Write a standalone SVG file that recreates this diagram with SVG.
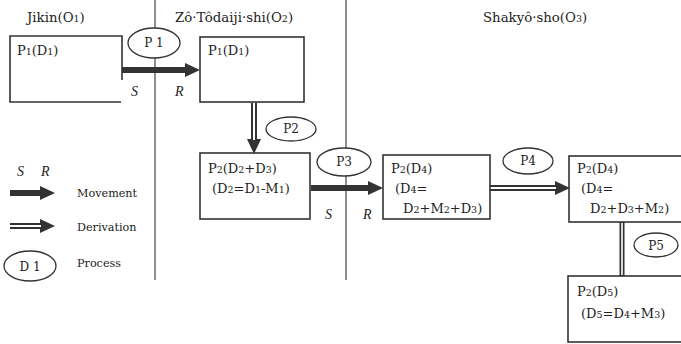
<svg xmlns="http://www.w3.org/2000/svg" width="681" height="344" viewBox="0 0 681 344">
<style>
text{font-family:'DejaVu Serif','Liberation Serif',serif;font-size:13px;fill:#222}
.hd{font-size:13.3px}
.it{font-family:'Liberation Serif',serif;font-style:italic;font-size:14px}
.lg{font-size:12px}
.lw{font-size:11.2px}
.s{font-size:9.5px}
.box{fill:none;stroke:#333;stroke-width:1.6}
.div{stroke:#444;stroke-width:1.2}
.ell{fill:#fff;stroke:#333;stroke-width:1.3}
.mv{stroke:#333;stroke-width:6;fill:none}
.dvo{stroke:#333;stroke-width:6;fill:none}
.dvi{stroke:#fff;stroke-width:2;fill:none}
</style>
<defs>
<marker id="ah" markerUnits="userSpaceOnUse" markerWidth="16" markerHeight="16" refX="0" refY="7" orient="auto" overflow="visible">
<path d="M0,0 L15,7 L0,14 Z" fill="#333"/>
</marker>
</defs>
<rect width="681" height="344" fill="#fff"/>
<g id="dividers">
<line class="div" x1="155" y1="0" x2="155" y2="280"/>
<line class="div" x1="346" y1="0" x2="346" y2="280"/>
</g>
<g id="headers">
<text class="hd" x="27" y="22">Jikin(O<tspan class="s">1</tspan>)</text>
<text class="hd" x="175" y="22">Zô·Tôdaiji·shi(O<tspan class="s">2</tspan>)</text>
<text class="hd" x="483" y="22">Shakyô·sho(O<tspan class="s">3</tspan>)</text>
</g>
<g id="connectors">
<line class="mv" x1="122" y1="70" x2="185" y2="70" marker-end="url(#ah)"/>
<line class="dvo" x1="254" y1="103" x2="254" y2="139" marker-end="url(#ah)"/>
<line class="dvi" x1="254" y1="103" x2="254" y2="140"/>
<line class="mv" x1="311" y1="188" x2="368" y2="188" marker-end="url(#ah)"/>
<line class="dvo" x1="490" y1="188" x2="555" y2="188" marker-end="url(#ah)"/>
<line class="dvi" x1="490" y1="188" x2="556" y2="188"/>
<line stroke="#333" stroke-width="5" x1="622" y1="222" x2="622" y2="276"/>
<line stroke="#fff" stroke-width="1.6" x1="622" y1="223" x2="622" y2="275"/>
<text class="it" x="131" y="96">S</text>
<text class="it" x="175" y="96">R</text>
<text class="it" x="325" y="219">S</text>
<text class="it" x="363" y="219">R</text>
</g>
<g id="n-jikin">
<path class="box" d="M122,80 V36 H10 V102 H121"/>
<text x="17" y="55">P<tspan class="s">1</tspan>(D<tspan class="s">1</tspan>)</text>
</g>
<g id="n-zo1">
<rect class="box" x="200" y="37" width="104" height="65"/>
<text x="208" y="55">P<tspan class="s">1</tspan>(D<tspan class="s">1</tspan>)</text>
</g>
<g id="n-zo2">
<rect class="box" x="200" y="153" width="110" height="66"/>
<text x="208" y="173">P<tspan class="s">2</tspan>(D<tspan class="s">2</tspan>+D<tspan class="s">3</tspan>)</text>
<text x="212" y="193">(D<tspan class="s">2</tspan>=D<tspan class="s">1</tspan>-M<tspan class="s">1</tspan>)</text>
</g>
<g id="n-sha1">
<rect class="box" x="383" y="155" width="107" height="64"/>
<text x="391" y="173">P<tspan class="s">2</tspan>(D<tspan class="s">4</tspan>)</text>
<text x="395" y="193">(D<tspan class="s">4</tspan>=</text>
<text x="403" y="213">D<tspan class="s">2</tspan>+M<tspan class="s">2</tspan>+D<tspan class="s">3</tspan>)</text>
</g>
<g id="n-sha2">
<rect class="box" x="569" y="156" width="130" height="66"/>
<text x="577" y="173">P<tspan class="s">2</tspan>(D<tspan class="s">4</tspan>)</text>
<text x="581" y="193">(D<tspan class="s">4</tspan>=</text>
<text x="590" y="213">D<tspan class="s">2</tspan>+D<tspan class="s">3</tspan>+M<tspan class="s">2</tspan>)</text>
</g>
<g id="n-sha3">
<rect class="box" x="568" y="276" width="130" height="66"/>
<text x="577" y="296">P<tspan class="s">2</tspan>(D<tspan class="s">5</tspan>)</text>
<text x="581" y="318">(D<tspan class="s">5</tspan>=D<tspan class="s">4</tspan>+M<tspan class="s">3</tspan>)</text>
</g>
<g id="p1"><ellipse class="ell" cx="154" cy="43" rx="26" ry="15"/><text class="lg" x="154" y="47" text-anchor="middle">P 1</text></g>
<g id="p2"><ellipse class="ell" cx="291" cy="129" rx="25" ry="12"/><text class="lg" x="291" y="133" text-anchor="middle">P2</text></g>
<g id="p3"><ellipse class="ell" cx="344" cy="162" rx="27" ry="14"/><text class="lg" x="344" y="166" text-anchor="middle">P3</text></g>
<g id="p4"><ellipse class="ell" cx="528" cy="161" rx="25" ry="13"/><text class="lg" x="528" y="165" text-anchor="middle">P4</text></g>
<g id="p5"><ellipse class="ell" cx="656" cy="245" rx="22" ry="12"/><text class="lg" x="656" y="250" text-anchor="middle">P5</text></g>
<g id="legend">
<text class="it" x="17" y="176">S</text>
<text class="it" x="41" y="176">R</text>
<line class="mv" x1="10" y1="193" x2="40" y2="193" marker-end="url(#ah)"/>
<text class="lw" x="77" y="197">Movement</text>
<line class="dvo" x1="10" y1="226" x2="40" y2="226" marker-end="url(#ah)"/>
<line class="dvi" x1="10" y1="226" x2="41" y2="226"/>
<text class="lw" x="77" y="231">Derivation</text>
<ellipse class="ell" cx="30" cy="266" rx="26" ry="15"/>
<text class="lg" x="30" y="271" text-anchor="middle">D 1</text>
<text class="lw" x="77" y="267">Process</text>
</g>
</svg>
